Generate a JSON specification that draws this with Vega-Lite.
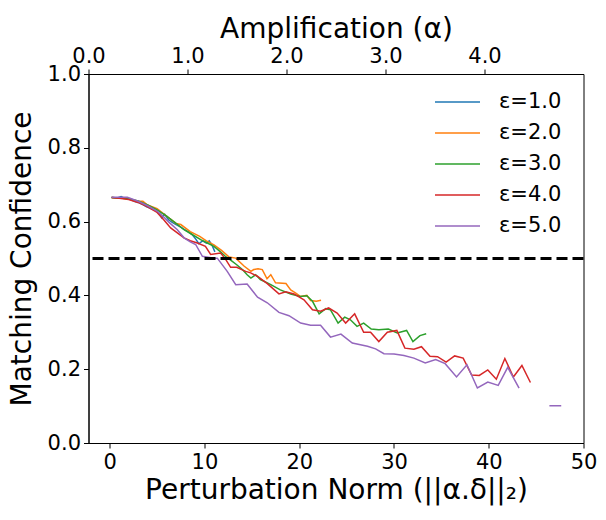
{
  "$schema": "https://vega.github.io/schema/vega-lite/v6.json",
  "width": 495,
  "height": 369,
  "autosize": {"type": "none"},
  "padding": {"left": 88.5, "top": 74, "right": 22.5, "bottom": 77},
  "background": "white",
  "config": {
    "view": {"stroke": "black", "strokeWidth": 1},
    "font": "DejaVu Sans",
    "axis": {
      "labelFont": "DejaVu Sans",
      "titleFont": "DejaVu Sans",
      "labelFontSize": 21,
      "titleFontSize": 28,
      "titleFontWeight": "normal",
      "labelColor": "black",
      "titleColor": "black",
      "tickColor": "black",
      "domainColor": "black",
      "tickSize": 5,
      "grid": false,
      "labelFlush": false,
      "labelPadding": 3
    }
  },
  "datasets": {
    "curves": [
      {"eps": "ε=1.0", "seg": 1, "norm": 0.2, "conf": 0.665},
      {"eps": "ε=1.0", "seg": 1, "norm": 0.8, "conf": 0.664},
      {"eps": "ε=1.0", "seg": 1, "norm": 1.2, "conf": 0.668},
      {"eps": "ε=1.0", "seg": 1, "norm": 1.6, "conf": 0.663},
      {"eps": "ε=1.0", "seg": 1, "norm": 2.2, "conf": 0.66},
      {"eps": "ε=1.0", "seg": 1, "norm": 2.6, "conf": 0.655},
      {"eps": "ε=1.0", "seg": 1, "norm": 3.0, "conf": 0.652},
      {"eps": "ε=1.0", "seg": 1, "norm": 3.5, "conf": 0.646},
      {"eps": "ε=1.0", "seg": 1, "norm": 3.9, "conf": 0.64},
      {"eps": "ε=1.0", "seg": 1, "norm": 4.3, "conf": 0.636},
      {"eps": "ε=1.0", "seg": 1, "norm": 4.8, "conf": 0.63},
      {"eps": "ε=1.0", "seg": 1, "norm": 5.2, "conf": 0.622},
      {"eps": "ε=1.0", "seg": 1, "norm": 5.5, "conf": 0.61},
      {"eps": "ε=1.0", "seg": 1, "norm": 5.8, "conf": 0.62},
      {"eps": "ε=1.0", "seg": 1, "norm": 6.2, "conf": 0.605},
      {"eps": "ε=1.0", "seg": 1, "norm": 6.6, "conf": 0.598},
      {"eps": "ε=1.0", "seg": 1, "norm": 7.0, "conf": 0.592},
      {"eps": "ε=1.0", "seg": 1, "norm": 7.5, "conf": 0.585},
      {"eps": "ε=1.0", "seg": 1, "norm": 7.9, "conf": 0.578},
      {"eps": "ε=1.0", "seg": 1, "norm": 8.3, "conf": 0.572},
      {"eps": "ε=1.0", "seg": 1, "norm": 8.7, "conf": 0.565},
      {"eps": "ε=1.0", "seg": 1, "norm": 9.1, "conf": 0.552},
      {"eps": "ε=1.0", "seg": 1, "norm": 9.4, "conf": 0.54},
      {"eps": "ε=1.0", "seg": 1, "norm": 9.8, "conf": 0.548},
      {"eps": "ε=1.0", "seg": 1, "norm": 10.2, "conf": 0.542},
      {"eps": "ε=1.0", "seg": 1, "norm": 10.5, "conf": 0.548},
      {"eps": "ε=1.0", "seg": 1, "norm": 10.8, "conf": 0.536},
      {"eps": "ε=1.0", "seg": 1, "norm": 11.1, "conf": 0.518},

      {"eps": "ε=2.0", "seg": 1, "norm": 0.2, "conf": 0.665},
      {"eps": "ε=2.0", "seg": 1, "norm": 1.0, "conf": 0.664},
      {"eps": "ε=2.0", "seg": 1, "norm": 2.0, "conf": 0.662},
      {"eps": "ε=2.0", "seg": 1, "norm": 3.0, "conf": 0.655},
      {"eps": "ε=2.0", "seg": 1, "norm": 3.5, "conf": 0.655},
      {"eps": "ε=2.0", "seg": 1, "norm": 4.0, "conf": 0.645},
      {"eps": "ε=2.0", "seg": 1, "norm": 5.0, "conf": 0.635},
      {"eps": "ε=2.0", "seg": 1, "norm": 6.0, "conf": 0.615},
      {"eps": "ε=2.0", "seg": 1, "norm": 7.0, "conf": 0.595},
      {"eps": "ε=2.0", "seg": 1, "norm": 7.5, "conf": 0.592},
      {"eps": "ε=2.0", "seg": 1, "norm": 8.5, "conf": 0.573},
      {"eps": "ε=2.0", "seg": 1, "norm": 9.5, "conf": 0.56},
      {"eps": "ε=2.0", "seg": 1, "norm": 10.2, "conf": 0.548},
      {"eps": "ε=2.0", "seg": 1, "norm": 11.0, "conf": 0.537},
      {"eps": "ε=2.0", "seg": 1, "norm": 11.8, "conf": 0.522},
      {"eps": "ε=2.0", "seg": 1, "norm": 12.6, "conf": 0.504},
      {"eps": "ε=2.0", "seg": 1, "norm": 13.3, "conf": 0.501},
      {"eps": "ε=2.0", "seg": 1, "norm": 14.2, "conf": 0.479},
      {"eps": "ε=2.0", "seg": 1, "norm": 14.9, "conf": 0.465},
      {"eps": "ε=2.0", "seg": 1, "norm": 15.2, "conf": 0.47},
      {"eps": "ε=2.0", "seg": 1, "norm": 15.65, "conf": 0.472},
      {"eps": "ε=2.0", "seg": 1, "norm": 16.1, "conf": 0.47},
      {"eps": "ε=2.0", "seg": 1, "norm": 16.6, "conf": 0.445},
      {"eps": "ε=2.0", "seg": 1, "norm": 17.0, "conf": 0.456},
      {"eps": "ε=2.0", "seg": 1, "norm": 17.5, "conf": 0.434},
      {"eps": "ε=2.0", "seg": 1, "norm": 18.6, "conf": 0.432},
      {"eps": "ε=2.0", "seg": 1, "norm": 19.1, "conf": 0.415},
      {"eps": "ε=2.0", "seg": 1, "norm": 19.6, "conf": 0.407},
      {"eps": "ε=2.0", "seg": 1, "norm": 20.15, "conf": 0.397},
      {"eps": "ε=2.0", "seg": 1, "norm": 20.8, "conf": 0.4},
      {"eps": "ε=2.0", "seg": 1, "norm": 21.2, "conf": 0.386},
      {"eps": "ε=2.0", "seg": 1, "norm": 21.8, "conf": 0.384},
      {"eps": "ε=2.0", "seg": 1, "norm": 22.3, "conf": 0.387},

      {"eps": "ε=3.0", "seg": 1, "norm": 0.2, "conf": 0.665},
      {"eps": "ε=3.0", "seg": 1, "norm": 1.0, "conf": 0.664},
      {"eps": "ε=3.0", "seg": 1, "norm": 2.0, "conf": 0.662},
      {"eps": "ε=3.0", "seg": 1, "norm": 3.0, "conf": 0.656},
      {"eps": "ε=3.0", "seg": 1, "norm": 4.0, "conf": 0.645},
      {"eps": "ε=3.0", "seg": 1, "norm": 5.0, "conf": 0.632},
      {"eps": "ε=3.0", "seg": 1, "norm": 6.0, "conf": 0.615},
      {"eps": "ε=3.0", "seg": 1, "norm": 7.0, "conf": 0.595},
      {"eps": "ε=3.0", "seg": 1, "norm": 7.84, "conf": 0.578},
      {"eps": "ε=3.0", "seg": 1, "norm": 8.7, "conf": 0.565},
      {"eps": "ε=3.0", "seg": 1, "norm": 9.6, "conf": 0.551},
      {"eps": "ε=3.0", "seg": 1, "norm": 10.3, "conf": 0.542},
      {"eps": "ε=3.0", "seg": 1, "norm": 11.0, "conf": 0.533},
      {"eps": "ε=3.0", "seg": 1, "norm": 11.6, "conf": 0.52},
      {"eps": "ε=3.0", "seg": 1, "norm": 12.2, "conf": 0.506},
      {"eps": "ε=3.0", "seg": 1, "norm": 12.8, "conf": 0.495},
      {"eps": "ε=3.0", "seg": 1, "norm": 13.4, "conf": 0.483},
      {"eps": "ε=3.0", "seg": 1, "norm": 14.0, "conf": 0.47},
      {"eps": "ε=3.0", "seg": 1, "norm": 14.5, "conf": 0.456},
      {"eps": "ε=3.0", "seg": 1, "norm": 14.9, "conf": 0.447},
      {"eps": "ε=3.0", "seg": 1, "norm": 15.4, "conf": 0.456},
      {"eps": "ε=3.0", "seg": 1, "norm": 15.9, "conf": 0.443},
      {"eps": "ε=3.0", "seg": 1, "norm": 17.0, "conf": 0.429},
      {"eps": "ε=3.0", "seg": 1, "norm": 18.0, "conf": 0.415},
      {"eps": "ε=3.0", "seg": 1, "norm": 19.1, "conf": 0.404},
      {"eps": "ε=3.0", "seg": 1, "norm": 20.1, "conf": 0.397},
      {"eps": "ε=3.0", "seg": 1, "norm": 20.8, "conf": 0.399},
      {"eps": "ε=3.0", "seg": 1, "norm": 21.4, "conf": 0.384},
      {"eps": "ε=3.0", "seg": 1, "norm": 22.1, "conf": 0.35},
      {"eps": "ε=3.0", "seg": 1, "norm": 22.8, "conf": 0.364},
      {"eps": "ε=3.0", "seg": 1, "norm": 23.3, "conf": 0.361},
      {"eps": "ε=3.0", "seg": 1, "norm": 24.1, "conf": 0.325},
      {"eps": "ε=3.0", "seg": 1, "norm": 24.8, "conf": 0.341},
      {"eps": "ε=3.0", "seg": 1, "norm": 25.4, "conf": 0.334},
      {"eps": "ε=3.0", "seg": 1, "norm": 26.1, "conf": 0.316},
      {"eps": "ε=3.0", "seg": 1, "norm": 26.8, "conf": 0.325},
      {"eps": "ε=3.0", "seg": 1, "norm": 27.6, "conf": 0.309},
      {"eps": "ε=3.0", "seg": 1, "norm": 28.4, "conf": 0.307},
      {"eps": "ε=3.0", "seg": 1, "norm": 29.4, "conf": 0.309},
      {"eps": "ε=3.0", "seg": 1, "norm": 30.34, "conf": 0.298},
      {"eps": "ε=3.0", "seg": 1, "norm": 31.33, "conf": 0.305},
      {"eps": "ε=3.0", "seg": 1, "norm": 32.0, "conf": 0.275},
      {"eps": "ε=3.0", "seg": 1, "norm": 32.74, "conf": 0.291},
      {"eps": "ε=3.0", "seg": 1, "norm": 33.4, "conf": 0.296},

      {"eps": "ε=4.0", "seg": 1, "norm": 0.2, "conf": 0.665},
      {"eps": "ε=4.0", "seg": 1, "norm": 1.0, "conf": 0.663},
      {"eps": "ε=4.0", "seg": 1, "norm": 2.0, "conf": 0.66},
      {"eps": "ε=4.0", "seg": 1, "norm": 3.0, "conf": 0.652},
      {"eps": "ε=4.0", "seg": 1, "norm": 4.0, "conf": 0.64},
      {"eps": "ε=4.0", "seg": 1, "norm": 5.0, "conf": 0.625},
      {"eps": "ε=4.0", "seg": 1, "norm": 5.7, "conf": 0.605},
      {"eps": "ε=4.0", "seg": 1, "norm": 6.43, "conf": 0.583},
      {"eps": "ε=4.0", "seg": 1, "norm": 7.1, "conf": 0.57},
      {"eps": "ε=4.0", "seg": 1, "norm": 7.84, "conf": 0.556},
      {"eps": "ε=4.0", "seg": 1, "norm": 8.5, "conf": 0.548},
      {"eps": "ε=4.0", "seg": 1, "norm": 9.25, "conf": 0.542},
      {"eps": "ε=4.0", "seg": 1, "norm": 10.1, "conf": 0.533},
      {"eps": "ε=4.0", "seg": 1, "norm": 10.65, "conf": 0.511},
      {"eps": "ε=4.0", "seg": 1, "norm": 11.7, "conf": 0.515},
      {"eps": "ε=4.0", "seg": 1, "norm": 12.2, "conf": 0.499},
      {"eps": "ε=4.0", "seg": 1, "norm": 12.76, "conf": 0.476},
      {"eps": "ε=4.0", "seg": 1, "norm": 13.4, "conf": 0.476},
      {"eps": "ε=4.0", "seg": 1, "norm": 14.35, "conf": 0.465},
      {"eps": "ε=4.0", "seg": 1, "norm": 14.87, "conf": 0.461},
      {"eps": "ε=4.0", "seg": 1, "norm": 15.58, "conf": 0.452},
      {"eps": "ε=4.0", "seg": 1, "norm": 16.63, "conf": 0.432},
      {"eps": "ε=4.0", "seg": 1, "norm": 17.86, "conf": 0.404},
      {"eps": "ε=4.0", "seg": 1, "norm": 18.57, "conf": 0.41},
      {"eps": "ε=4.0", "seg": 1, "norm": 19.45, "conf": 0.404},
      {"eps": "ε=4.0", "seg": 1, "norm": 20.5, "conf": 0.388},
      {"eps": "ε=4.0", "seg": 1, "norm": 21.4, "conf": 0.361},
      {"eps": "ε=4.0", "seg": 1, "norm": 22.25, "conf": 0.357},
      {"eps": "ε=4.0", "seg": 1, "norm": 23.1, "conf": 0.366},
      {"eps": "ε=4.0", "seg": 1, "norm": 24.0, "conf": 0.352},
      {"eps": "ε=4.0", "seg": 1, "norm": 24.9, "conf": 0.325},
      {"eps": "ε=4.0", "seg": 1, "norm": 25.85, "conf": 0.35},
      {"eps": "ε=4.0", "seg": 1, "norm": 26.8, "conf": 0.3},
      {"eps": "ε=4.0", "seg": 1, "norm": 27.53, "conf": 0.3},
      {"eps": "ε=4.0", "seg": 1, "norm": 28.4, "conf": 0.275},
      {"eps": "ε=4.0", "seg": 1, "norm": 29.3, "conf": 0.3},
      {"eps": "ε=4.0", "seg": 1, "norm": 30.3, "conf": 0.305},
      {"eps": "ε=4.0", "seg": 1, "norm": 31.15, "conf": 0.257},
      {"eps": "ε=4.0", "seg": 1, "norm": 32.1, "conf": 0.254},
      {"eps": "ε=4.0", "seg": 1, "norm": 32.9, "conf": 0.261},
      {"eps": "ε=4.0", "seg": 1, "norm": 33.8, "conf": 0.235},
      {"eps": "ε=4.0", "seg": 1, "norm": 34.6, "conf": 0.234},
      {"eps": "ε=4.0", "seg": 1, "norm": 35.5, "conf": 0.219},
      {"eps": "ε=4.0", "seg": 1, "norm": 36.4, "conf": 0.236},
      {"eps": "ε=4.0", "seg": 1, "norm": 37.3, "conf": 0.23},
      {"eps": "ε=4.0", "seg": 1, "norm": 38.2, "conf": 0.184},
      {"eps": "ε=4.0", "seg": 1, "norm": 39.0, "conf": 0.183},
      {"eps": "ε=4.0", "seg": 1, "norm": 39.9, "conf": 0.198},
      {"eps": "ε=4.0", "seg": 1, "norm": 40.8, "conf": 0.173},
      {"eps": "ε=4.0", "seg": 1, "norm": 41.7, "conf": 0.229},
      {"eps": "ε=4.0", "seg": 1, "norm": 42.6, "conf": 0.179},
      {"eps": "ε=4.0", "seg": 1, "norm": 43.5, "conf": 0.21},
      {"eps": "ε=4.0", "seg": 1, "norm": 44.4, "conf": 0.164},

      {"eps": "ε=5.0", "seg": 1, "norm": 0.2, "conf": 0.666},
      {"eps": "ε=5.0", "seg": 1, "norm": 1.86, "conf": 0.666},
      {"eps": "ε=5.0", "seg": 1, "norm": 3.0, "conf": 0.655},
      {"eps": "ε=5.0", "seg": 1, "norm": 4.0, "conf": 0.643},
      {"eps": "ε=5.0", "seg": 1, "norm": 5.03, "conf": 0.628},
      {"eps": "ε=5.0", "seg": 1, "norm": 5.6, "conf": 0.615},
      {"eps": "ε=5.0", "seg": 1, "norm": 6.26, "conf": 0.598},
      {"eps": "ε=5.0", "seg": 1, "norm": 7.14, "conf": 0.578},
      {"eps": "ε=5.0", "seg": 1, "norm": 7.84, "conf": 0.556},
      {"eps": "ε=5.0", "seg": 1, "norm": 8.5, "conf": 0.545},
      {"eps": "ε=5.0", "seg": 1, "norm": 9.07, "conf": 0.538},
      {"eps": "ε=5.0", "seg": 1, "norm": 9.78, "conf": 0.506},
      {"eps": "ε=5.0", "seg": 1, "norm": 11.0, "conf": 0.501},
      {"eps": "ε=5.0", "seg": 1, "norm": 11.35, "conf": 0.501},
      {"eps": "ε=5.0", "seg": 1, "norm": 12.4, "conf": 0.465},
      {"eps": "ε=5.0", "seg": 1, "norm": 13.3, "conf": 0.429},
      {"eps": "ε=5.0", "seg": 1, "norm": 14.5, "conf": 0.431},
      {"eps": "ε=5.0", "seg": 1, "norm": 15.6, "conf": 0.395},
      {"eps": "ε=5.0", "seg": 1, "norm": 16.63, "conf": 0.38},
      {"eps": "ε=5.0", "seg": 1, "norm": 17.86, "conf": 0.354},
      {"eps": "ε=5.0", "seg": 1, "norm": 18.92, "conf": 0.345},
      {"eps": "ε=5.0", "seg": 1, "norm": 20.15, "conf": 0.325},
      {"eps": "ε=5.0", "seg": 1, "norm": 21.2, "conf": 0.319},
      {"eps": "ε=5.0", "seg": 1, "norm": 22.25, "conf": 0.319},
      {"eps": "ε=5.0", "seg": 1, "norm": 23.3, "conf": 0.287},
      {"eps": "ε=5.0", "seg": 1, "norm": 24.4, "conf": 0.295},
      {"eps": "ε=5.0", "seg": 1, "norm": 25.6, "conf": 0.271},
      {"eps": "ε=5.0", "seg": 1, "norm": 27.2, "conf": 0.262},
      {"eps": "ε=5.0", "seg": 1, "norm": 28.06, "conf": 0.255},
      {"eps": "ε=5.0", "seg": 1, "norm": 28.94, "conf": 0.242},
      {"eps": "ε=5.0", "seg": 1, "norm": 30.0, "conf": 0.241},
      {"eps": "ε=5.0", "seg": 1, "norm": 31.05, "conf": 0.237},
      {"eps": "ε=5.0", "seg": 1, "norm": 32.1, "conf": 0.23},
      {"eps": "ε=5.0", "seg": 1, "norm": 33.3, "conf": 0.217},
      {"eps": "ε=5.0", "seg": 1, "norm": 34.4, "conf": 0.226},
      {"eps": "ε=5.0", "seg": 1, "norm": 35.4, "conf": 0.215},
      {"eps": "ε=5.0", "seg": 1, "norm": 36.6, "conf": 0.179},
      {"eps": "ε=5.0", "seg": 1, "norm": 37.7, "conf": 0.212},
      {"eps": "ε=5.0", "seg": 1, "norm": 38.8, "conf": 0.149},
      {"eps": "ε=5.0", "seg": 1, "norm": 39.9, "conf": 0.165},
      {"eps": "ε=5.0", "seg": 1, "norm": 41.0, "conf": 0.156},
      {"eps": "ε=5.0", "seg": 1, "norm": 42.0, "conf": 0.205},
      {"eps": "ε=5.0", "seg": 1, "norm": 43.2, "conf": 0.149},
      {"eps": "ε=5.0", "seg": 2, "norm": 46.4, "conf": 0.101},
      {"eps": "ε=5.0", "seg": 2, "norm": 47.65, "conf": 0.101}
    ],
    "threshold": [{"conf": 0.5}],
    "alpha": [{"a": 0}, {"a": 5}]
  },
  "layer": [
    {
      "data": {"name": "curves"},
      "mark": {"type": "line", "strokeWidth": 1.5, "clip": true},
      "encoding": {
        "x": {
          "field": "norm",
          "type": "quantitative",
          "scale": {"domain": [-2.24, 50], "nice": false, "zero": false},
          "axis": {"values": [0, 10, 20, 30, 40, 50], "title": "Perturbation Norm (||α.δ||₂)", "titlePadding": 4}
        },
        "y": {
          "field": "conf",
          "type": "quantitative",
          "scale": {"domain": [0, 1], "nice": false},
          "axis": {"values": [0, 0.2, 0.4, 0.6, 0.8, 1.0], "format": ".1f", "title": "Matching Confidence", "titlePadding": 11}
        },
        "color": {
          "field": "eps",
          "type": "nominal",
          "scale": {
            "domain": ["ε=1.0", "ε=2.0", "ε=3.0", "ε=4.0", "ε=5.0"],
            "range": ["#1f77b4", "#ff7f0e", "#2ca02c", "#d62728", "#9467bd"]
          },
          "legend": {
            "title": null,
            "orient": "none",
            "legendX": 353,
            "legendY": 12,
            "padding": 0,
            "symbolType": "M-1.5,0H1.5",
            "symbolSize": 900,
            "symbolStrokeWidth": 1.5,
            "labelFont": "DejaVu Sans",
            "labelFontSize": 21,
            "labelColor": "black",
            "labelOffset": 25.5,
            "rowPadding": 5
          }
        },
        "detail": {"field": "seg", "type": "nominal"}
      }
    },
    {
      "data": {"name": "threshold"},
      "mark": {"type": "rule", "color": "black", "strokeWidth": 3, "strokeDash": [11, 5]},
      "encoding": {"y": {"field": "conf", "type": "quantitative"}}
    },
    {
      "data": {"name": "alpha"},
      "mark": {"type": "point", "opacity": 0},
      "encoding": {
        "x": {
          "field": "a",
          "type": "quantitative",
          "scale": {"domain": [0, 5], "nice": false, "zero": false},
          "axis": {"orient": "top", "values": [0, 1, 2, 3, 4], "format": ".1f", "title": "Amplification (α)", "titlePadding": 2}
        }
      }
    }
  ],
  "resolve": {"scale": {"x": "independent"}, "axis": {"x": "independent"}}
}
